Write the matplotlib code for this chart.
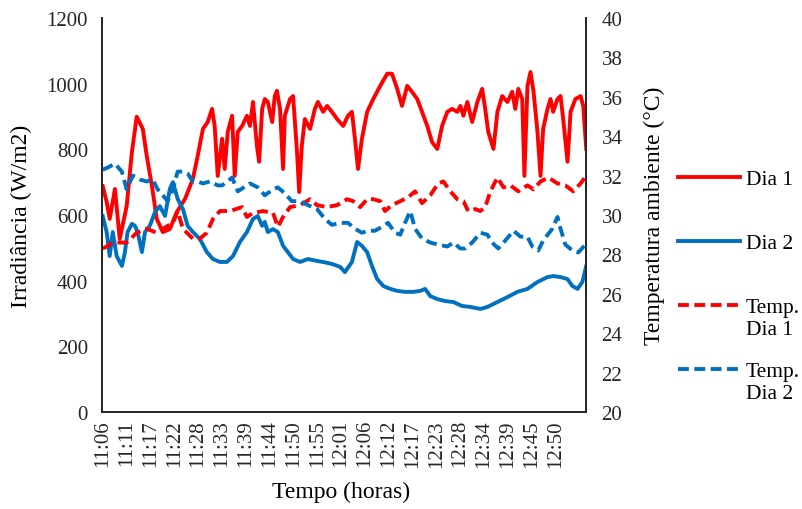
import matplotlib
matplotlib.use("Agg")
import numpy as np
import matplotlib.pyplot as plt
from matplotlib.legend_handler import HandlerLine2D

plt.rcParams['font.family'] = ['Liberation Serif', 'DejaVu Serif']
plt.rcParams['font.size'] = 15

# time in minutes after 11:06
t_dia1 = [0.0, 0.9, 1.6, 2.8, 3.9, 5.5, 6.7, 7.8, 9.2, 10.1, 11.3, 12.4, 13.8, 15.4, 17.0, 18.9,
          20.7, 21.8, 23.0, 24.1, 25.1, 25.7, 26.4, 27.4, 28.0, 28.7, 29.7, 30.3, 31.0, 32.0, 33.1,
          33.8, 34.5, 35.4, 35.9, 36.6, 37.2, 37.9, 38.9, 39.5, 40.0, 40.7, 41.4, 41.8, 43.0, 43.7,
          44.6, 45.1, 45.7, 46.4, 47.6, 48.7, 49.4, 50.6, 51.5, 52.6, 53.8, 55.2, 56.3, 57.2, 57.9,
          58.6, 59.5, 60.7, 62.1, 63.7, 65.3, 66.4, 67.6, 68.7, 69.9, 71.0, 72.2, 73.3, 74.5, 75.6,
          76.8, 77.9, 79.1, 80.2, 81.4, 82.1, 82.8, 83.7, 84.8, 86.0, 87.1, 87.8, 88.5, 89.7, 90.6,
          91.7, 92.9, 94.0, 94.7, 95.4, 96.3, 96.8, 97.5, 98.2, 98.9, 99.8, 100.5, 101.1, 102.1,
          102.8, 103.4, 104.4, 105.1, 105.7, 106.7, 107.4, 108.5, 109.7, 110.3, 111.0]
irr_dia1 = [688, 640, 588, 679, 527, 627, 792, 899, 862, 780, 688, 588, 548, 557, 609, 649,
            710, 780, 862, 883, 923, 871, 719, 832, 740, 853, 902, 719, 853, 871, 902,
            871, 944, 810, 762, 923, 953, 944, 883, 962, 978, 923, 740, 902, 953, 962,
            792, 670, 810, 892, 862, 923, 944, 914, 932, 914, 892, 871, 902, 914, 832,
            740, 832, 914, 953, 993, 1030, 1030, 984, 932, 993, 975, 953, 914, 871, 822,
            801, 871, 914, 923, 914, 932, 902, 944, 883, 944, 984, 923, 853, 801, 914,
            962, 944, 975, 923, 984, 953, 719, 993, 1035, 975, 853, 719, 862, 923,
            953, 914, 953, 962, 892, 762, 914, 953, 962, 932, 801]

t_dia2 = [0.0, 0.9, 1.6, 2.3, 3.2, 4.4, 5.1, 5.7, 6.7, 7.4, 8.0, 9.0, 9.7, 10.8, 12.0, 13.1,
          14.3, 15.4, 16.1, 17.2, 18.4, 19.5, 20.7, 22.3, 23.9, 25.3, 26.9, 28.5, 29.9, 31.5,
          33.1, 34.5, 35.6, 36.6, 37.2, 37.9, 39.1, 40.2, 41.4, 42.5, 43.7, 45.3, 47.1, 49.2,
          50.6, 52.6, 54.5, 55.6, 57.2, 58.4, 59.5, 60.7, 61.8, 63.0, 64.4, 66.0, 67.6, 69.4,
          71.3, 72.9, 74.0, 75.2, 76.8, 78.6, 80.5, 82.5, 84.4, 86.7, 88.3, 90.6, 92.9, 95.2,
          97.5, 99.8, 102.1, 103.4, 105.1, 106.7, 107.8, 109.0, 110.1, 111.0]
irr_dia2 = [597, 548, 475, 548, 475, 445, 487, 548, 573, 567, 548, 487, 548, 567, 609, 627,
            597, 679, 700, 649, 618, 567, 548, 527, 487, 466, 457, 457, 475, 518,
            548, 588, 597, 567, 579, 548, 557, 548, 506, 487, 466, 457, 466, 460,
            457, 451, 442, 426, 457, 518, 506, 487, 445, 405, 384, 375, 369, 366,
            366, 369, 375, 353, 344, 338, 335, 323, 320, 314, 320, 335, 350, 366,
            375, 396, 411, 414, 411, 405, 384, 375, 396, 445]

t_temp1 = [0.0, 0.9, 2.3, 5.5, 7.8, 10.1, 12.4, 13.8, 16.1, 17.2, 18.4, 20.7, 22.3, 23.9, 25.3,
           26.9, 29.2, 32.0, 33.1, 34.5, 36.8, 39.1, 40.2, 41.4, 43.0, 45.3, 47.6, 49.2, 51.5,
           53.8, 56.1, 57.5, 59.1, 60.7, 62.1, 63.7, 64.8, 66.4, 68.3, 70.1, 71.7, 73.3, 75.2,
           77.0, 78.2, 79.8, 81.4, 82.8, 83.9, 85.5, 86.7, 87.8, 89.0, 90.6, 92.0, 93.6, 95.4,
           97.5, 98.9, 100.5, 102.3, 104.4, 106.2, 108.0, 109.7, 111.0]
temp_dia1 = [28.3, 28.4, 28.6, 28.6, 29.1, 29.3, 29.1, 29.3, 29.6, 30.2, 29.3, 28.8, 28.8, 29.1, 29.8,
             30.2, 30.2, 30.4, 29.9, 30.1, 30.2, 30.1, 29.4, 29.9, 30.4, 30.5, 30.8, 30.5, 30.4,
             30.5, 30.8, 30.7, 30.4, 30.8, 30.8, 30.7, 30.2, 30.5, 30.7, 30.9, 31.2, 30.6, 31.0,
             31.6, 31.7, 31.2, 30.8, 30.7, 30.2, 30.3, 30.2, 30.4, 31.2, 31.9, 31.4, 31.5, 31.2,
             31.5, 31.3, 31.7, 31.9, 31.6, 31.5, 31.2, 31.6, 32.0]

t_temp2 = [0.0, 1.1, 2.8, 4.4, 5.5, 6.9, 8.5, 10.1, 11.5, 12.6, 13.8, 14.9, 16.1, 17.2, 18.4,
           19.5, 20.7, 21.8, 23.0, 24.6, 26.4, 27.4, 29.7, 31.0, 33.8, 35.6, 37.2, 39.1, 40.2,
           41.8, 43.4, 45.3, 47.1, 49.2, 51.0, 52.6, 54.5, 56.3, 57.9, 59.5, 60.9, 62.5, 64.1,
           65.5, 67.1, 68.3, 69.4, 70.6, 71.7, 73.3, 75.2, 77.0, 79.1, 80.5, 82.1, 83.2, 84.8,
           86.7, 88.3, 89.4, 90.8, 92.4, 94.3, 95.9, 97.5, 98.6, 100.0, 101.1, 103.2, 104.4,
           105.1, 106.2, 107.8, 109.2, 110.8]
temp_dia2 = [32.3, 32.4, 32.6, 32.2, 31.3, 32.0, 31.8, 31.7, 31.8, 31.3, 31.0, 30.7, 31.3, 32.2, 32.2,
             32.1, 31.7, 31.7, 31.6, 31.7, 31.5, 31.5, 31.9, 31.2, 31.6, 31.4, 31.0, 31.3, 31.4,
             31.1, 30.7, 30.7, 30.5, 30.3, 29.8, 29.5, 29.6, 29.6, 29.3, 29.1, 29.2, 29.2, 29.4,
             29.6, 29.1, 29.0, 29.6, 30.2, 29.3, 28.8, 28.6, 28.5, 28.4, 28.6, 28.3, 28.3, 28.6,
             29.1, 29.0, 28.6, 28.3, 28.7, 29.2, 28.9, 28.9, 28.4, 28.2, 28.7, 29.3, 29.9,
             29.3, 28.5, 28.2, 28.1, 28.5]

tick_labels = ['11:06', '11:11', '11:17', '11:22', '11:28', '11:33', '11:39', '11:44', '11:50',
               '11:55', '12:01', '12:06', '12:12', '12:17', '12:23', '12:28', '12:34', '12:39',
               '12:45', '12:50']
tick_step = 5.47  # minutes between labelled categories

red = '#FF0000'
blue = '#0070C0'
lw = 2.8
dash = (2.8, 1.4)


# legend line sits level with the first line of the label, like Excel
class HandlerTopLine(HandlerLine2D):
    def create_artists(self, legend, orig_handle, xdescent, ydescent,
                       width, height, fontsize, trans):
        arts = super().create_artists(legend, orig_handle, xdescent, ydescent,
                                      width, height, fontsize, trans)
        for a in arts:
            a.set_ydata(np.asarray(a.get_ydata()) + 0.6 * fontsize)
        return arts


fig = plt.figure(figsize=(8.02, 5.10), dpi=100)
ax = fig.add_axes([0.127, 0.190, 0.604, 0.773])
ax2 = ax.twinx()

l1, = ax.plot(t_dia1, irr_dia1, color=red, lw=lw, label='Dia 1\n')
l2, = ax.plot(t_dia2, irr_dia2, color=blue, lw=lw, label='Dia 2\n')
l3, = ax2.plot(t_temp1, temp_dia1, color=red, lw=lw, dashes=dash, label='Temp.\nDia 1')
l4, = ax2.plot(t_temp2, temp_dia2, color=blue, lw=lw, dashes=dash, label='Temp.\nDia 2')

ax.set_xlim(-0.2, 111.0)
ax.set_ylim(0, 1200)
ax.set_yticks(range(0, 1201, 200))
ax2.set_ylim(20, 40)
ax2.set_yticks(range(20, 41, 2))

ax.set_xticks([i * tick_step for i in range(len(tick_labels))])
ax.set_xticklabels(tick_labels, rotation=90)

for a in (ax, ax2):
    a.spines['top'].set_visible(False)
    for s in ('left', 'right', 'bottom'):
        a.spines[s].set_color('#262626')
        a.spines[s].set_linewidth(1.3)
    a.tick_params(length=0, labelsize=15, colors='#262626')
ax.tick_params(axis='y', pad=10)
ax.tick_params(axis='x', pad=5)
ax2.tick_params(axis='y', pad=11)

ax.set_ylabel('Irradiância (W/m2)', fontsize=17)
ax2.set_ylabel('Temperatura ambiente (°C)', fontsize=17)
ax.set_xlabel('Tempo (horas)', fontsize=17)
ax.yaxis.set_label_coords(-0.145, 0.5)
ax2.yaxis.set_label_coords(1.119, 0.5)
ax.xaxis.set_label_coords(0.494, -0.175)

fig.legend(handles=[l1, l2, l3, l4], loc='upper left',
           bbox_to_anchor=(678 / 802, 1 - 171 / 510), frameon=False,
           borderpad=0, borderaxespad=0, handlelength=2.9, handletextpad=0.25,
           labelspacing=1.08, fontsize=15.5,
           handler_map={matplotlib.lines.Line2D: HandlerTopLine()})

fig.savefig('out.png', dpi=100)
